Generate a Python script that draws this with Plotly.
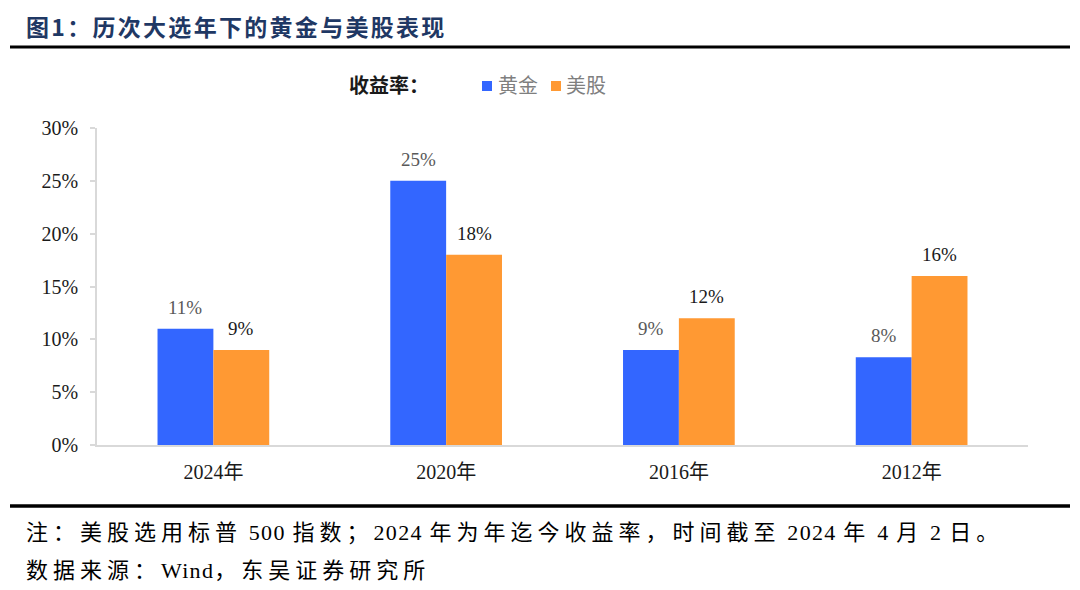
import re
import plotly.graph_objects as go

categories = ["2024年", "2020年", "2016年", "2012年"]
gold = [0.11, 0.25, 0.09, 0.083]
us = [0.09, 0.18, 0.12, 0.16]
series_names = ["黄金", "美股"]
series_colors = ["#3366FF", "#FF9933"]
label_colors = ["#595959", "#1a1a1a"]
yticks = [0, 0.05, 0.10, 0.15, 0.20, 0.25, 0.30]
ytick_text = ["0%", "5%", "10%", "15%", "20%", "25%", "30%"]

title = "图1：历次大选年下的黄金与美股表现"
legend_title = "收益率："
note1 = "注：美股选用标普 500 指数；2024 年为年迄今收益率，时间截至 2024 年 4 月 2 日。"
note2 = "数据来源：Wind，东吴证券研究所"

serif = "Liberation Serif, Noto Sans CJK SC, serif"
cjk = "Noto Sans CJK SC, sans-serif"

# page body has an 8px margin; figure coordinates = screen - 8
OFF = 8
W, H = 1072, 582
L, R, T, B = 89, 52, 120, 145
pw = W - L - R
ph = H - T - B
BARGAP = 0.52


def px_x(sx):
    return (sx - OFF - L) / pw


def px_y(sy):
    return (H - B - (sy - OFF)) / ph


def spaced(text, cjk_sp, latin_sp):
    runs = re.findall(r"[\u3000-\u9fff\uff00-\uffef]+|[^\u3000-\u9fff\uff00-\uffef]+", text)
    out = []
    for r in runs:
        sp = cjk_sp if re.match(r"[\u3000-\u9fff\uff00-\uffef]", r) else latin_sp
        out.append(f"<span style='letter-spacing:{sp}px'>{r}</span>")
    return "".join(out)


fig = go.Figure()
for name, vals, col in zip(series_names, [gold, us], series_colors):
    fig.add_trace(go.Bar(
        x=categories, y=vals, name=name,
        marker=dict(color=col, line=dict(width=0)),
        showlegend=False,
    ))

fig.update_layout(
    width=W, height=H,
    margin=dict(l=L, r=R, t=T, b=B, autoexpand=False),
    paper_bgcolor="white", plot_bgcolor="white",
    barmode="group", bargap=BARGAP, bargroupgap=0,
    showlegend=False,
    xaxis=dict(showline=True, linecolor="#d9d9d9", linewidth=1.5, ticks="",
               tickfont=dict(family=serif, size=20, color="#1a1a1a"),
               ticklabelstandoff=8, showgrid=False, fixedrange=True),
    yaxis=dict(range=[0, 0.30], tickvals=yticks, ticktext=ytick_text,
               showline=True, linecolor="#d9d9d9", linewidth=1.5,
               ticks="outside", ticklen=5, tickcolor="#d9d9d9", tickwidth=1.5,
               tickfont=dict(family=serif, size=20, color="#1a1a1a"),
               ticklabelstandoff=8,
               showgrid=False, zeroline=False, fixedrange=True),
    font=dict(family=serif),
)

# value labels above bars, positioned through the axes
cat_w = pw / len(categories)
bar_w = cat_w * (1 - BARGAP) / 2
annotations = []
for i, (vals, lc) in enumerate(zip([gold, us], label_colors)):
    shift = (i - 0.5) * bar_w
    for c, v in zip(categories, vals):
        annotations.append(dict(
            x=c, y=v, xref="x", yref="y", text=f"{v:.0%}", showarrow=False,
            xanchor="center", yanchor="bottom", xshift=shift, yshift=9,
            font=dict(family=serif, size=19, color=lc),
        ))

shapes = [
    dict(type="line", xref="paper", yref="paper", x0=px_x(10), x1=px_x(1070),
         y0=px_y(47), y1=px_y(47), line=dict(color="#000000", width=3)),
    dict(type="line", xref="paper", yref="paper", x0=px_x(10), x1=px_x(1070),
         y0=px_y(506), y1=px_y(506), line=dict(color="#000000", width=3.5)),
]

# legend
legend_items = [(482, 497), (551, 565)]
for (sq_x, tx_x), name, col in zip(legend_items, series_names, series_colors):
    shapes.append(dict(type="rect", xref="paper", yref="paper",
                       x0=px_x(sq_x), x1=px_x(sq_x + 10), y0=px_y(91), y1=px_y(81),
                       fillcolor=col, line=dict(width=0)))
    annotations.append(dict(text=name, xref="paper", yref="paper",
                            x=px_x(tx_x), y=px_y(86), xanchor="left", yanchor="middle",
                            showarrow=False, borderpad=0,
                            font=dict(family=serif, size=20, color="#7f7f7f")))

annotations += [
    dict(text=f"<b><span style='letter-spacing:2.3px'>{title}</span></b>", xref="paper", yref="paper",
         x=px_x(25), y=px_y(8.5), xanchor="left", yanchor="top", showarrow=False, borderpad=0,
         font=dict(family=cjk, size=23, color="#1f3864")),
    dict(text=f"<b>{legend_title}</b>", xref="paper", yref="paper",
         x=px_x(348), y=px_y(85), xanchor="left", yanchor="middle", showarrow=False, borderpad=0,
         font=dict(family=cjk, size=20, color="#1a1a1a")),
    dict(text=spaced(note1, 5, 1.3),
         xref="paper", yref="paper", x=px_x(25), y=px_y(532), xanchor="left", yanchor="middle",
         showarrow=False, borderpad=0, font=dict(family=serif, size=22, color="#000000")),
    dict(text=spaced(note2, 5, 1.3),
         xref="paper", yref="paper", x=px_x(25), y=px_y(570), xanchor="left", yanchor="middle",
         showarrow=False, borderpad=0, font=dict(family=serif, size=22, color="#000000")),
]

fig.update_layout(shapes=shapes, annotations=annotations)

fig.write_html("out.html")
